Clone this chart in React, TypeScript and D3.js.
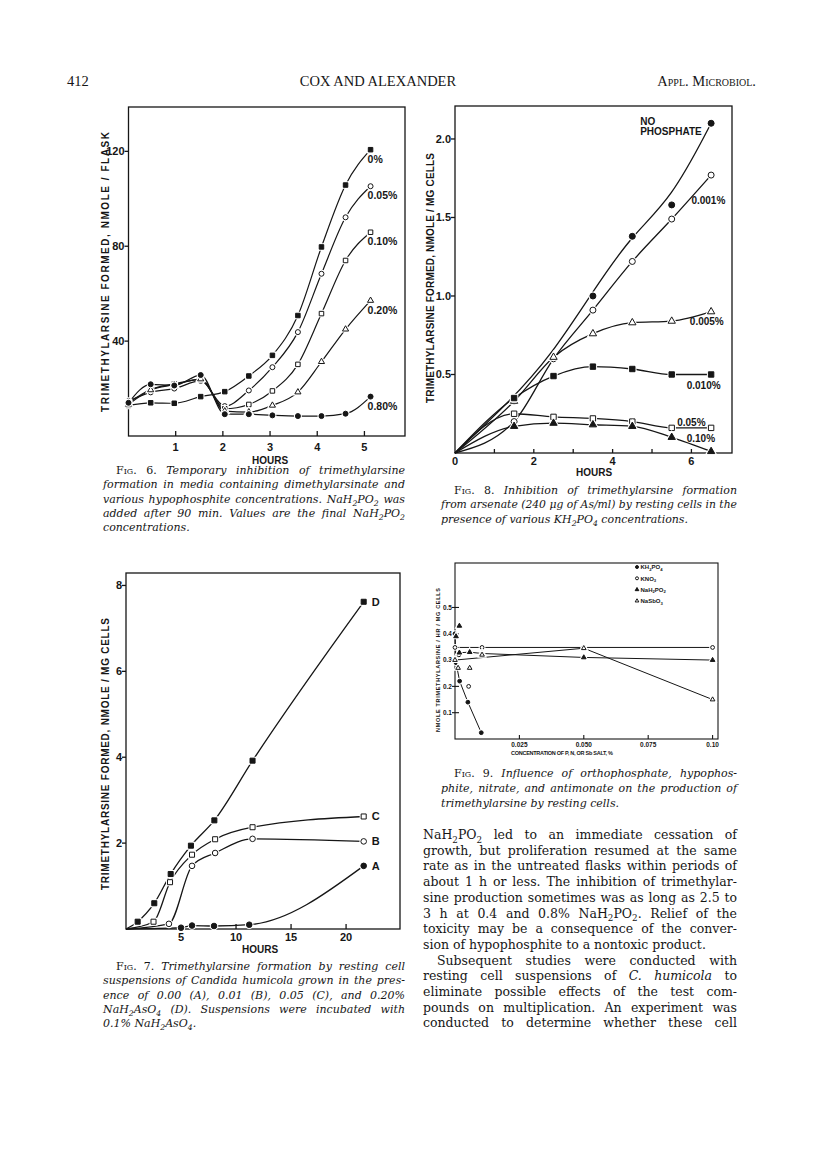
import React, { useEffect, useRef } from "react";
import * as d3 from "d3";

const W = 816;
const H = 1176;
const INK = "#161616";
const SANS = "'Liberation Sans', Arial, sans-serif";
const SERIF = "'DejaVu Serif', 'Liberation Serif', serif";
const HEAD = "'Liberation Serif', 'Times New Roman', serif";

// ---------- Fig. 6 (hypophosphite) ----------
const f6Hours = [0, 0.47, 0.97, 1.53, 2.04, 2.55, 3.05, 3.59, 4.09, 4.6, 5.13];
const f6Zero = [12.9, 14.0, 13.8, 16.6, 18.7, 25.3, 34.0, 50.8, 79.7, 105.8, 120.7];
const f6P005 = [14.7, 18.4, 20.0, 23.2, 12.6, 19.2, 29.0, 43.8, 68.4, 92.2, 105.3];
const f6P010 = [14.0, 19.6, 22.0, 23.8, 11.5, 13.3, 19.0, 30.2, 51.6, 74.0, 85.9];
const f6P020 = [13.3, 19.4, 21.6, 24.0, 10.5, 10.1, 12.9, 18.5, 31.3, 45.0, 57.1];
const f6P080 = [14.0, 21.8, 21.3, 25.7, 9.2, 9.2, 8.7, 8.4, 8.4, 9.4, 16.6];
const f6Labels = ["0%", "0.05%", "0.10%", "0.20%", "0.80%"];
const f6XTicks = [1, 2, 3, 4, 5];
const f6YTicks = [40, 80, 120];

// ---------- Fig. 8 (KH2PO4) ----------
const f8Hours = [0, 1.5, 2.5, 3.5, 4.5, 5.5, 6.5];
const f8None = [0, 0.33, 0.6, 1.0, 1.38, 1.58, 2.1];
const f8P0001 = [0, 0.2, 0.6, 0.91, 1.22, 1.49, 1.77];
const f8P0005 = [0, 0.33, 0.61, 0.76, 0.83, 0.84, 0.9];
const f8P0010 = [0, 0.35, 0.49, 0.55, 0.535, 0.5, 0.5];
const f8P005 = [0, 0.25, 0.23, 0.22, 0.2, 0.16, 0.16];
const f8P010 = [0, 0.17, 0.19, 0.18, 0.17, 0.1, 0.01];
const f8XTicks = [1, 2, 3, 4, 5, 6];
const f8XLabels = [0, 2, 4, 6];
const f8YTicks = [0.5, 1.0, 1.5, 2.0];

// ---------- Fig. 7 (resting cells) ----------
const f7AHours = [0, 5.0, 6.0, 8.0, 11.2, 21.6];
const f7A = [0, 0.03, 0.08, 0.07, 0.1, 1.47];
const f7BHours = [0, 3.9, 6.0, 8.1, 11.5, 21.6];
const f7B = [0, 0.12, 1.47, 1.77, 2.1, 2.04];
const f7CHours = [0, 2.5, 4.0, 6.0, 8.1, 11.5, 21.6];
const f7C = [0, 0.17, 1.09, 1.73, 2.09, 2.37, 2.62];
const f7DHours = [0, 1.06, 2.57, 4.06, 5.9, 8.03, 11.5, 21.6];
const f7D = [0, 0.17, 0.6, 1.28, 1.94, 2.53, 3.92, 7.62];
const f7Labels = ["A", "B", "C", "D"];
const f7XTicks = [5, 10, 15, 20];
const f7YTicks = [2, 4, 6, 8];

// ---------- Fig. 9 (salts) ----------
const f9KhConc = [0, 0.0004, 0.0018, 0.005, 0.0102];
const f9Kh = [0.4, 0.29, 0.22, 0.14, 0.024];
const f9KnoConc = [0, 0.0105, 0.05, 0.1];
const f9Kno = [0.348, 0.348, 0.348, 0.348];
const f9KnoXConc = [0.0015, 0.0053];
const f9KnoX = [0.32, 0.2];
const f9HypoConc = [0.0017, 0.0057, 0.0105, 0.05, 0.1];
const f9Hypo = [0.328, 0.33, 0.325, 0.31, 0.3];
const f9HypoXConc = [0.0004, 0.0017];
const f9HypoX = [0.39, 0.43];
const f9SbConc = [0, 0.05, 0.1];
const f9Sb = [0.3, 0.345, 0.15];
const f9SbXConc = [0.0012, 0.0057, 0.0105];
const f9SbX = [0.27, 0.27, 0.32];
const f9Legend = ["KH_2PO_4", "KNO_3", "NaH_2PO_2", "NaSbO_3"];
const f9XTicks = [0.025, 0.05, 0.075, 0.1];
const f9XLabels = ["0.025", "0.050", "0.075", "0.10"];
const f9YTicks = [0.1, 0.2, 0.3, 0.4, 0.5];

// ---------- text ----------
const cap6 = [
  "[Fig. 6.] Temporary inhibition of trimethylarsine",
  "formation in media containing dimethylarsinate and",
  "various hypophosphite concentrations. NaH_2PO_2 was",
  "added after 90 min. Values are the final NaH_2PO_2",
  "concentrations.",
];
const cap8 = [
  "[Fig. 8.] Inhibition of trimethylarsine formation",
  "from arsenate (240 μg of As/ml) by resting cells in the",
  "presence of various KH_2PO_4 concentrations.",
];
const cap7 = [
  "[Fig. 7.] Trimethylarsine formation by resting cell",
  "suspensions of Candida humicola grown in the pres-",
  "ence of 0.00 (A), 0.01 (B), 0.05 (C), and 0.20%",
  "NaH_2AsO_4 (D). Suspensions were incubated with",
  "0.1% NaH_2AsO_4.",
];
const cap9 = [
  "[Fig. 9.] Influence of orthophosphate, hypophos-",
  "phite, nitrate, and antimonate on the production of",
  "trimethylarsine by resting cells.",
];
const bodyLines = [
  "NaH_2PO_2 led to an immediate cessation of",
  "growth, but proliferation resumed at the same",
  "rate as in the untreated flasks within periods of",
  "about 1 h or less. The inhibition of trimethylar-",
  "sine production sometimes was as long as 2.5 to",
  "3 h at 0.4 and 0.8% NaH_2PO_2. Relief of the",
  "toxicity may be a consequence of the conver-",
  "sion of hypophosphite to a nontoxic product.",
  "Subsequent studies were conducted with",
  "resting cell suspensions of *C. humicola* to",
  "eliminate possible effects of the test com-",
  "pounds on multiplication. An experiment was",
  "conducted to determine whether these cell",
];
const bodyRagged = [7];
const bodyIndent = [8];

// text with *italic*, [small caps] and _x subscripts, optionally justified
function rich(g, str, x, y, o) {
  const size = o.size;
  const base = !!o.italic;
  const t = g
    .append("text")
    .attr("x", x)
    .attr("y", y)
    .attr("font-family", o.family || SERIF)
    .attr("font-size", size)
    .attr("font-weight", o.weight || "normal")
    .attr("text-anchor", o.anchor || "start")
    .attr("fill", INK);
  const segs = [];
  let it = base;
  let sc = false;
  let buf = "";
  const flush = () => {
    if (buf) segs.push({ s: buf, it, sc, sub: false });
    buf = "";
  };
  for (let i = 0; i < str.length; i++) {
    const c = str[i];
    if (c === "*") {
      flush();
      it = !it;
    } else if (c === "[") {
      flush();
      sc = true;
      it = false;
    } else if (c === "]") {
      flush();
      sc = false;
      it = base;
    } else if (c === "_") {
      flush();
      segs.push({ s: str[i + 1], it, sc: false, sub: true });
      i++;
    } else buf += c;
  }
  flush();
  const drop = size * 0.28;
  let down = false;
  segs.forEach((sg) => {
    const ts = t.append("tspan").text(sg.s).attr("font-style", sg.it ? "italic" : "normal");
    if (sg.sc) ts.attr("font-variant", "small-caps");
    if (sg.sub) {
      ts.attr("font-size", size * 0.7);
      if (!down) ts.attr("dy", drop);
      down = true;
    } else if (down) {
      ts.attr("dy", -drop);
      down = false;
    }
  });
  if (o.width) {
    const len = t.node().getComputedTextLength();
    const n = (str.match(/ /g) || []).length;
    if (len > o.width) t.attr("textLength", o.width).attr("lengthAdjust", "spacingAndGlyphs");
    else if (n) t.attr("word-spacing", (o.width - len) / n);
  }
  return t;
}

function mark(g, kind, filled, cx, cy, r) {
  const type = kind === "circle" ? d3.symbolCircle : kind === "square" ? d3.symbolSquare : d3.symbolTriangle;
  const size = kind === "circle" ? Math.PI * r * r : kind === "square" ? (1.8 * r) ** 2 : 2.6 * r * r;
  const d = d3.symbol().type(type).size(size)();
  const tr = `translate(${cx},${cy})`;
  g.append("path").attr("d", d).attr("transform", tr).attr("fill", "#fff").attr("stroke", "#fff").attr("stroke-width", 3);
  g.append("path")
    .attr("d", d)
    .attr("transform", tr)
    .attr("fill", filled ? INK : "#fff")
    .attr("stroke", INK)
    .attr("stroke-width", 1);
}

function panel(svg, p) {
  const x = d3.scaleLinear().domain(p.xd).range([p.x0, p.x1]);
  const y = d3.scaleLinear().domain(p.yd).range([p.y1, p.y0]);
  const g = svg.append("g");
  const ink = (s) => s.attr("stroke", INK).attr("stroke-width", p.lw || 1.3);
  p.xTicks.forEach((t) => ink(g.append("line").attr("x1", x(t)).attr("x2", x(t)).attr("y1", p.y1).attr("y2", p.y1 - p.xTickLen)));
  p.yTicks.forEach((t) =>
    ink(g.append("line").attr("x1", p.x0 - p.yOut).attr("x2", p.x0 + p.yIn).attr("y1", y(t)).attr("y2", y(t)))
  );
  p.xLabels.forEach((t, i) =>
    g
      .append("text")
      .attr("x", x(t))
      .attr("y", p.y1 + p.xLabelDy)
      .attr("text-anchor", "middle")
      .attr("font-family", SANS)
      .attr("font-weight", "bold")
      .attr("font-size", p.fs)
      .attr("fill", INK)
      .text(p.xFmt(t, i))
  );
  p.yTicks.forEach((t) =>
    g
      .append("text")
      .attr("x", p.x0 - p.yLabelGap)
      .attr("y", y(t) + p.fs * 0.36)
      .attr("text-anchor", "end")
      .attr("font-family", SANS)
      .attr("font-weight", "bold")
      .attr("font-size", p.fs)
      .attr("fill", INK)
      .text(p.yFmt(t))
  );
  g.append("rect")
    .attr("x", p.x0)
    .attr("y", p.y0)
    .attr("width", p.x1 - p.x0)
    .attr("height", p.y1 - p.y0)
    .attr("fill", "none")
    .attr("stroke", INK)
    .attr("stroke-width", p.lw || 1.3);
  // titles
  g.append("text")
    .attr("transform", `translate(${p.yTitle.x},${p.yTitle.cy}) rotate(-90)`)
    .attr("text-anchor", "middle")
    .attr("dominant-baseline", "central")
    .attr("font-family", SANS)
    .attr("font-weight", "bold")
    .attr("font-size", p.yTitle.fs)
    .attr("textLength", p.yTitle.len)
    .attr("lengthAdjust", "spacing")
    .attr("fill", INK)
    .text(p.yTitle.text);
  const xt = g
    .append("text")
    .attr("x", p.xTitle.cx)
    .attr("y", p.xTitle.y)
    .attr("text-anchor", "middle")
    .attr("font-family", SANS)
    .attr("font-weight", "bold")
    .attr("font-size", p.xTitle.fs)
    .attr("fill", INK)
    .text(p.xTitle.text);
  if (p.xTitle.len) xt.attr("textLength", p.xTitle.len).attr("lengthAdjust", "spacing");
  return { g, x, y };
}

function drawSeries(g, x, y, list, curve, r, lw, markAtZero) {
  list.forEach((s) => {
    if (s.noLine) return;
    const line = d3
      .line()
      .x((d) => x(d[0]))
      .y((d) => y(d[1]))
      .curve(s.curve || curve);
    const pts = s.xs.map((v, i) => [v, s.ys[i]]);
    g.append("path").attr("d", line(pts)).attr("fill", "none").attr("stroke", INK).attr("stroke-width", lw);
  });
  list.forEach((s) => {
    s.xs.forEach((v, i) => {
      if (v === 0 && !markAtZero) return;
      mark(g, s.kind, s.filled, x(v), y(s.ys[i]), r);
    });
  });
}

function caption(svg, lines, x, y, width, step) {
  lines.forEach((ln, i) => {
    const ind = i === 0 ? 13 : 0;
    const last = i === lines.length - 1;
    rich(svg, ln, x + ind, y + i * step, { size: 11, italic: true, width: last ? 0 : width - ind });
  });
}

function drawFig6(svg) {
  const { g, x, y } = panel(svg, {
    x0: 128.5, x1: 405, y0: 107, y1: 436, xd: [0, 5.86], yd: [0, 138.7],
    xTicks: f6XTicks, xLabels: f6XTicks, xTickLen: 5, xLabelDy: 15, xFmt: (t) => String(t),
    yTicks: f6YTicks, yOut: 4, yIn: 0, yLabelGap: 4, yFmt: (t) => String(t), fs: 11,
    yTitle: { text: "TRIMETHYLARSINE FORMED, NMOLE / FLASK", x: 105, cy: 272, len: 280, fs: 10 },
    xTitle: { text: "HOURS", cx: 270, y: 464, fs: 10 },
  });
  const list = [
    { xs: f6Hours, ys: f6Zero, kind: "square", filled: true },
    { xs: f6Hours, ys: f6P005, kind: "circle", filled: false },
    { xs: f6Hours, ys: f6P010, kind: "square", filled: false },
    { xs: f6Hours, ys: f6P020, kind: "triangle", filled: false },
    { xs: f6Hours, ys: f6P080, kind: "circle", filled: true },
  ];
  drawSeries(g, x, y, list, d3.curveMonotoneX, 2.5, 1.2, true);
  list.forEach((s, i) => {
    const n = s.xs.length - 1;
    g.append("text")
      .attr("x", x(s.xs[n]) - 3)
      .attr("y", y(s.ys[n]) + 13)
      .attr("font-family", SANS)
      .attr("font-weight", "bold")
      .attr("font-size", 10.5)
      .attr("fill", INK)
      .text(f6Labels[i]);
  });
  caption(svg, cap6, 103, 474, 302, 14.3);
}

function drawFig8(svg) {
  const { g, x, y } = panel(svg, {
    x0: 455, x1: 732, y0: 106, y1: 453, xd: [0, 7.03], yd: [0, 2.21],
    xTicks: f8XTicks, xLabels: f8XLabels, xTickLen: 4, xLabelDy: 12, xFmt: (t) => String(t),
    yTicks: f8YTicks, yOut: 4, yIn: 0, yLabelGap: 4, yFmt: d3.format(".1f"), fs: 11,
    yTitle: { text: "TRIMETHYLARSINE FORMED, NMOLE / MG CELLS", x: 430, cy: 278, len: 250, fs: 10 },
    xTitle: { text: "HOURS", cx: 594, y: 476, fs: 10 },
  });
  const list = [
    { xs: f8Hours, ys: f8None, kind: "circle", filled: true, curve: d3.curveBundle.beta(0.8) },
    { xs: f8Hours, ys: f8P0001, kind: "circle", filled: false },
    { xs: f8Hours, ys: f8P0005, kind: "triangle", filled: false },
    { xs: f8Hours, ys: f8P0010, kind: "square", filled: true },
    { xs: f8Hours, ys: f8P005, kind: "square", filled: false },
    { xs: f8Hours, ys: f8P010, kind: "triangle", filled: true },
  ];
  drawSeries(g, x, y, list, d3.curveMonotoneX, 3, 1.3, false);
  const lab = (t, hx, v) =>
    g.append("text")
      .attr("x", x(hx))
      .attr("y", y(v))
      .attr("font-family", SANS)
      .attr("font-weight", "bold")
      .attr("font-size", 10)
      .attr("fill", INK)
      .text(t);
  lab("NO", 4.7, 2.09);
  lab("PHOSPHATE", 4.7, 2.025);
  lab("0.001%", 6.0, 1.586);
  lab("0.005%", 5.96, 0.817);
  lab("0.010%", 5.88, 0.408);
  lab("0.05%", 5.64, 0.174);
  lab("0.10%", 5.88, 0.068);
  caption(svg, cap8, 441, 494, 296, 14.3);
}

function drawFig7(svg) {
  const { g, x, y } = panel(svg, {
    x0: 126, x1: 400, y0: 573, y1: 929, xd: [0, 24.9], yd: [0, 8.29],
    xTicks: f7XTicks, xLabels: f7XTicks, xTickLen: 5, xLabelDy: 12, xFmt: (t) => String(t),
    yTicks: f7YTicks, yOut: 4, yIn: 0, yLabelGap: 4, yFmt: (t) => String(t), fs: 11,
    yTitle: { text: "TRIMETHYLARSINE FORMED, NMOLE / MG CELLS", x: 105, cy: 754, len: 272, fs: 10 },
    xTitle: { text: "HOURS", cx: 260, y: 953, fs: 10 },
  });
  const list = [
    { xs: f7AHours, ys: f7A, kind: "circle", filled: true },
    { xs: f7BHours, ys: f7B, kind: "circle", filled: false },
    { xs: f7CHours, ys: f7C, kind: "square", filled: false },
    { xs: f7DHours, ys: f7D, kind: "square", filled: true },
  ];
  drawSeries(g, x, y, list, d3.curveMonotoneX, 2.8, 1.3, false);
  list.forEach((s, i) => {
    const n = s.xs.length - 1;
    g.append("text")
      .attr("x", x(s.xs[n]) + 8)
      .attr("y", y(s.ys[n]) + 4)
      .attr("font-family", SANS)
      .attr("font-weight", "bold")
      .attr("font-size", 11)
      .attr("fill", INK)
      .text(f7Labels[i]);
  });
  caption(svg, cap7, 103, 970, 302, 14.3);
}

function drawFig9(svg) {
  const { g, x, y } = panel(svg, {
    x0: 455, x1: 718, y0: 563, y1: 739, xd: [0, 0.1021], yd: [0, 0.669], lw: 1.1,
    xTicks: f9XTicks, xLabels: f9XTicks, xTickLen: 4, xLabelDy: 7.5, xFmt: (t, i) => f9XLabels[i],
    yTicks: f9YTicks, yOut: 3, yIn: 4, yLabelGap: 3, yFmt: d3.format(".1f"), fs: 6.5,
    yTitle: { text: "NMOLE TRIMETHYLARSINE / HR / MG CELLS", x: 438, cy: 660, len: 144, fs: 5.5 },
    xTitle: { text: "CONCENTRATION OF P, N, OR Sb SALT, %", cx: 562, y: 755, fs: 5.5, len: 102 },
  });
  const list = [
    { xs: f9KhConc, ys: f9Kh, kind: "circle", filled: true },
    { xs: f9KnoConc, ys: f9Kno, kind: "circle", filled: false },
    { xs: f9KnoXConc, ys: f9KnoX, kind: "circle", filled: false, noLine: true },
    { xs: f9HypoConc, ys: f9Hypo, kind: "triangle", filled: true },
    { xs: f9HypoXConc, ys: f9HypoX, kind: "triangle", filled: true, noLine: true },
    { xs: f9SbConc, ys: f9Sb, kind: "triangle", filled: false },
    { xs: f9SbXConc, ys: f9SbX, kind: "triangle", filled: false, noLine: true },
  ];
  drawSeries(g, x, y, list, d3.curveLinear, 1.9, 1.0, true);
  const legKinds = [
    ["circle", true],
    ["circle", false],
    ["triangle", true],
    ["triangle", false],
  ];
  f9Legend.forEach((t, i) => {
    const ly = 567 + i * 11.3;
    mark(g, legKinds[i][0], legKinds[i][1], 637, ly, 1.5);
    rich(g, t, 640.5, ly + 2.2, { size: 6, family: SANS, weight: "bold" });
  });
  caption(svg, cap9, 441, 777, 296, 15);
}

function drawHeader(svg) {
  const txt = (s, x, anchor) =>
    rich(svg, s, x, 86, { size: 14.5, family: HEAD, anchor });
  txt("412", 67, "start");
  txt("COX AND ALEXANDER", 378, "middle");
  txt("[Appl. Microbiol.]", 756, "end");
}

function drawBody(svg) {
  bodyLines.forEach((ln, i) => {
    const ind = bodyIndent.includes(i) ? 14 : 0;
    const ragged = bodyRagged.includes(i);
    rich(svg, ln, 423 + ind, 839 + i * 15.7, { size: 12.5, width: ragged ? 0 : 314 - ind });
  });
}

export default function App() {
  const ref = useRef(null);
  useEffect(() => {
    const svg = d3.select(ref.current);
    svg.selectAll("*").remove();
    svg.append("rect").attr("width", W).attr("height", H).attr("fill", "#fff");
    drawHeader(svg);
    drawFig6(svg);
    drawFig8(svg);
    drawFig7(svg);
    drawFig9(svg);
    drawBody(svg);
  }, []);
  return (
    <svg
      ref={ref}
      width={W}
      height={H}
      style={{ position: "absolute", left: 0, top: 0, background: "#fff" }}
    />
  );
}
